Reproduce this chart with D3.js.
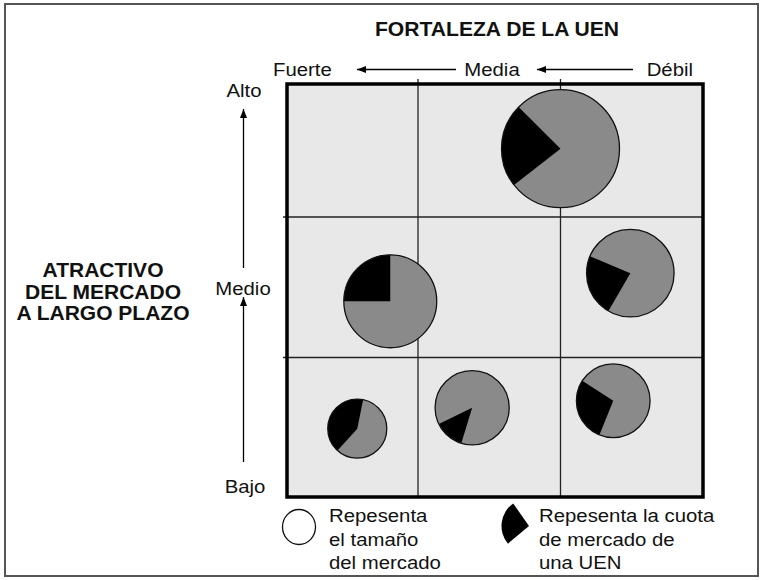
<!DOCTYPE html>
<html>
<head>
<meta charset="utf-8">
<script src="https://cdn.jsdelivr.net/npm/d3@7"></script>
<style>
	body { margin: 0; background: #fff; }
	text { font-family: "Liberation Sans", Arial, sans-serif; fill: #111; }
</style>
</head>
<body>
<svg id="svg" width="763" height="580"></svg>
<script>
// grid labels
var strengthLabels = ["Fuerte", "Media", "Débil"];
var attractLabels = ["Alto", "Medio", "Bajo"];
var titleTop = "FORTALEZA DE LA UEN";
var titleLeft = ["ATRACTIVO", "DEL MERCADO", "A LARGO PLAZO"];
var legendSize = ["Repesenta", "el tamaño", "del mercado"];
var legendShare = ["Repesenta la cuota", "de mercado de", "una UEN"];

// one entry per UEN (position in grid units, 0..3)
var strength = [2.0, 0.79, 2.49, 0.54, 1.38, 2.37];
var attractiveness = [2.51, 1.40, 1.60, 0.49, 0.64, 0.69];
var marketSize = [100, 62, 55, 25, 39.5, 39];
var marketShare = [0.23, 0.25, 0.23, 0.415, 0.13, 0.28];
var wedgeStart = [232, 270, 210, 222, 197, 202]; // degrees, clockwise from 12 o'clock

var svg = d3.select("#svg");

var x = d3.scaleLinear().domain([0, 1, 2, 3]).range([286, 418, 560.5, 703]);
var y = d3.scaleLinear().domain([3, 2, 1, 0]).range([83, 217, 357.5, 497]);
var r = d3.scaleSqrt().domain([0, 100]).range([0, 59]);

var fs = 18.5, sx = 1.1; // regular text looks a bit stretched in the original

function label(px, py, s, size, anchor, weight, stretch) {
	svg.append("text")
		.attr("transform", "translate(" + px + "," + py + ") scale(" + stretch + ",1)")
		.attr("text-anchor", anchor)
		.style("font-size", size + "px")
		.style("font-weight", weight)
		.text(s);
}

// outer frame
svg.append("rect")
	.attr("x", 5).attr("y", 4)
	.attr("width", 753).attr("height", 572)
	.attr("fill", "none")
	.attr("stroke", "#555")
	.attr("stroke-width", 2);

// grid background
svg.append("rect")
	.attr("x", x(0)).attr("y", y(3))
	.attr("width", x(3) - x(0)).attr("height", y(0) - y(3))
	.attr("fill", "#e8e8e8");

// inner grid lines
[1, 2].forEach(function(v) {
	svg.append("line")
		.attr("x1", x(v)).attr("x2", x(v))
		.attr("y1", y(3) - 4).attr("y2", y(0))
		.attr("stroke", "#222").attr("stroke-width", 1.3);
	svg.append("line")
		.attr("x1", x(0) - 3).attr("x2", x(3))
		.attr("y1", y(v)).attr("y2", y(v))
		.attr("stroke", "#222").attr("stroke-width", 1.3);
});

// pies
var arc = d3.arc().innerRadius(0);
strength.forEach(function(s, i) {
	var g = svg.append("g").attr("transform", "translate(" + x(s) + "," + y(attractiveness[i]) + ")");
	var rad = r(marketSize[i]);
	var a0 = wedgeStart[i] * Math.PI / 180;
	g.append("circle").attr("r", rad).attr("fill", "#8a8a8a");
	g.append("path")
		.attr("d", arc({outerRadius: rad, startAngle: a0, endAngle: a0 + marketShare[i] * 2 * Math.PI}))
		.attr("fill", "#000");
	g.append("circle").attr("r", rad).attr("fill", "none").attr("stroke", "#111").attr("stroke-width", 1.3);
});

// thick border on top
svg.append("rect")
	.attr("x", x(0) + 1).attr("y", y(3) + 1)
	.attr("width", x(3) - x(0) - 1).attr("height", y(0) - y(3) - 1)
	.attr("fill", "none")
	.attr("stroke", "#000")
	.attr("stroke-width", 3.5);

// arrows
function arrow(x1, y1, x2, y2) {
	svg.append("line")
		.attr("x1", x1).attr("y1", y1).attr("x2", x2).attr("y2", y2)
		.attr("stroke", "#000").attr("stroke-width", 1.3);
	var ang = Math.atan2(y2 - y1, x2 - x1);
	var len = 9, w = 3.5;
	var bx = x2 - len * Math.cos(ang), by = y2 - len * Math.sin(ang);
	var pts = [[x2, y2],
		[bx + w * Math.sin(ang), by - w * Math.cos(ang)],
		[bx - w * Math.sin(ang), by + w * Math.cos(ang)]];
	svg.append("path").attr("d", d3.line()(pts) + "Z").attr("fill", "#000");
}
arrow(456, 69.5, 357, 69.5);
arrow(633, 69.5, 537, 69.5);
arrow(243.5, 268, 243.5, 109);
arrow(243.5, 462, 243.5, 297);

// titles and labels
label(497, 36, titleTop, 20.5, "middle", "bold", 1.03);
titleLeft.forEach(function(t, i) {
	label(103, 277 + i * 21.5, t, 21, "middle", "bold", 1);
});

label(273, 76, strengthLabels[0], fs, "start", "normal", sx);
label(492, 76, strengthLabels[1], fs, "middle", "normal", sx);
label(693, 76, strengthLabels[2], fs, "end", "normal", sx);

label(244, 97, attractLabels[0], fs, "middle", "normal", sx);
label(243, 295, attractLabels[1], fs, "middle", "normal", sx);
label(245, 493, attractLabels[2], fs, "middle", "normal", sx);

// legend
svg.append("ellipse")
	.attr("cx", 299).attr("cy", 527)
	.attr("rx", 16.5).attr("ry", 17.5)
	.attr("fill", "#fff").attr("stroke", "#111").attr("stroke-width", 1.3);
svg.append("path")
	.attr("transform", "translate(529,526)")
	.attr("d", arc({outerRadius: 27.5, startAngle: 230 * Math.PI / 180, endAngle: 325 * Math.PI / 180}))
	.attr("fill", "#000");

legendSize.forEach(function(t, i) {
	label(329, 522 + i * 23.6, t, fs, "start", "normal", sx);
});
legendShare.forEach(function(t, i) {
	label(539, 522 + i * 23.6, t, fs, "start", "normal", sx);
});
</script>
</body>
</html>
